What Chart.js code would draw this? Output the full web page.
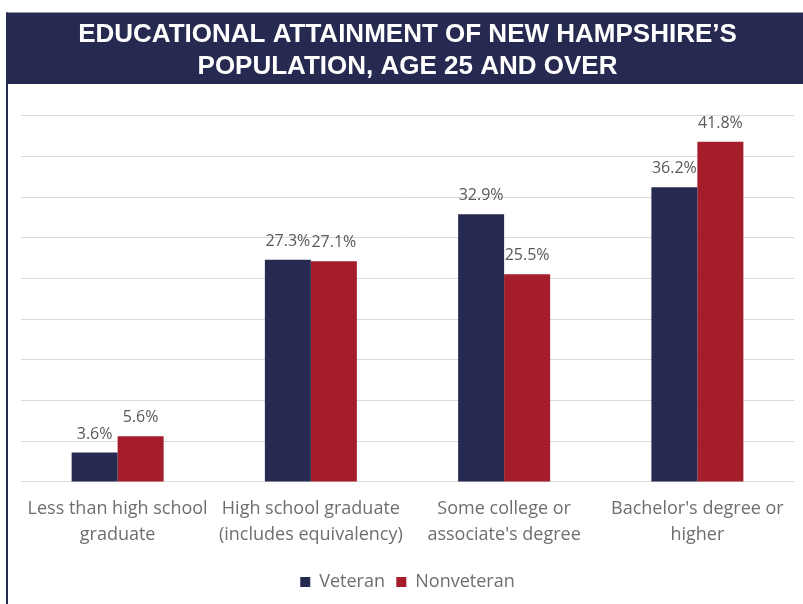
<!DOCTYPE html>
<html>
<head>
<meta charset="utf-8">
<title>Educational Attainment of New Hampshire's Population</title>
<script src="https://cdn.jsdelivr.net/npm/chart.js@4"></script>
<style>
  html, body { margin: 0; padding: 0; background: #fff; }
  #wrap { width: 803px; height: 604px; position: relative; }
</style>
</head>
<body>
<div id="wrap"><canvas id="eduChart" width="803" height="604"></canvas></div>
<script>
// Data
const categories = [
  ["Less than high school", "graduate"],
  ["High school graduate", "(includes equivalency)"],
  ["Some college or", "associate's degree"],
  ["Bachelor's degree or", "higher"]
];
const veteranValues = [3.6, 27.3, 32.9, 36.2];
const nonveteranValues = [5.6, 27.1, 25.5, 41.8];
const titleLines = ["EDUCATIONAL ATTAINMENT OF NEW HAMPSHIRE\u2019S", "POPULATION, AGE 25 AND OVER"];

const NAVY = "#272a50";
const RED = "#a51c2a";

// banner + left rule behind the title
const bannerPlugin = {
  id: "banner",
  beforeDraw(chart) {
    const ctx = chart.ctx;
    ctx.save();
    ctx.fillStyle = NAVY;
    ctx.fillRect(6, 12.5, chart.width - 6, 71.5);
    ctx.fillRect(6, 12.5, 2, chart.height - 12.5);
    ctx.restore();
  }
};

// value labels above each bar
const valueLabels = {
  id: "valueLabels",
  afterDatasetsDraw(chart) {
    const ctx = chart.ctx;
    ctx.save();
    ctx.font = "16px 'Open Sans'";
    ctx.fillStyle = "#595959";
    ctx.textAlign = "center";
    ctx.textBaseline = "alphabetic";
    chart.data.datasets.forEach((ds, i) => {
      chart.getDatasetMeta(i).data.forEach((bar, j) => {
        ctx.fillText(ds.data[j].toFixed(1) + "%", bar.x, bar.y - 14);
      });
    });
    ctx.restore();
  }
};

new Chart(document.getElementById("eduChart"), {
  type: "bar",
  data: {
    labels: categories,
    datasets: [
      { label: "Veteran", data: veteranValues, backgroundColor: NAVY },
      { label: "Nonveteran", data: nonveteranValues, backgroundColor: RED }
    ]
  },
  options: {
    responsive: false,
    animation: false,
    layout: { padding: { left: 21, right: 9, top: 0, bottom: 3 } },
    datasets: {
      bar: { categoryPercentage: 0.476, barPercentage: 1 }
    },
    scales: {
      x: {
        grid: { display: false, drawTicks: false },
        border: { display: false },
        ticks: {
          padding: 14.7,
          color: "#6e6e6e",
          font: { family: "'Open Sans'", size: 18, lineHeight: 1.4 },
          maxRotation: 0
        }
      },
      y: {
        min: 0,
        max: 45,
        ticks: { display: false, stepSize: 5 },
        border: { display: false },
        grid: { color: "#d9d9d9", lineWidth: 1, drawTicks: false }
      }
    },
    plugins: {
      title: {
        display: true,
        text: titleLines,
        color: "#ffffff",
        font: { family: "'Liberation Sans', Arial, sans-serif", size: 26, weight: "bold", lineHeight: 1.23 },
        padding: { top: 18.5, bottom: 33.2 }
      },
      legend: {
        position: "bottom",
        labels: {
          boxWidth: 10,
          boxHeight: 10,
          padding: 11.3,
          color: "#6e6e6e",
          font: { family: "'Open Sans'", size: 18 }
        }
      },
      tooltip: { enabled: false }
    }
  },
  plugins: [bannerPlugin, valueLabels]
});
</script>
</body>
</html>
